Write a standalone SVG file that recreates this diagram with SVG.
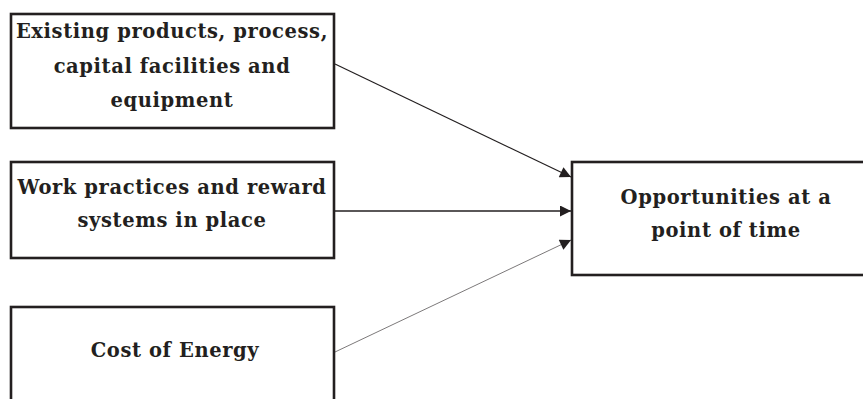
<svg xmlns="http://www.w3.org/2000/svg" width="863" height="399" viewBox="0 0 863 399">
  <style>
    .box { fill: #ffffff; stroke: #231f20; stroke-width: 2.6; }
    .label { font-family: "DejaVu Serif", "Liberation Serif", serif; font-weight: bold; font-size: 19.5px; fill: #231f20; text-anchor: middle; letter-spacing: 0.6px; }
    .edge { fill: none; stroke: #231f20; }
  </style>
  <defs>
    <marker id="arrowhead" viewBox="0 0 10 10" refX="10" refY="5" markerWidth="15" markerHeight="11" markerUnits="userSpaceOnUse" orient="auto">
      <path d="M0,0 L10,5 L0,10 Z" fill="#231f20"/>
    </marker>
  </defs>
  <rect width="863" height="399" fill="#ffffff"/>

  <g id="existing-products">
    <rect class="box" x="11" y="14" width="323" height="114"/>
    <text class="label" x="172" y="38">Existing products, process,</text>
    <text class="label" x="172" y="73">capital  facilities and</text>
    <text class="label" x="172" y="107">equipment</text>
  </g>

  <g id="work-practices">
    <rect class="box" x="11" y="162" width="323" height="96"/>
    <text class="label" x="172" y="194">Work practices and reward</text>
    <text class="label" x="172" y="227">systems in place</text>
  </g>

  <g id="cost-of-energy">
    <rect class="box" x="11" y="307" width="323" height="100"/>
    <text class="label" x="175" y="357">Cost of Energy</text>
  </g>

  <g id="opportunities">
    <rect class="box" x="572" y="162" width="300" height="113"/>
    <text class="label" x="726" y="204">Opportunities at a</text>
    <text class="label" x="726" y="237">point of time</text>
  </g>

  <g id="connectors">
    <line class="edge" x1="335" y1="64" x2="571" y2="177" stroke-width="1.2" marker-end="url(#arrowhead)"/>
    <line class="edge" x1="335" y1="211" x2="571" y2="211" stroke-width="1.6" marker-end="url(#arrowhead)"/>
    <line class="edge" x1="335" y1="352" x2="571" y2="240" stroke-width="0.6" stroke="#555555" marker-end="url(#arrowhead)"/>
  </g>
</svg>
